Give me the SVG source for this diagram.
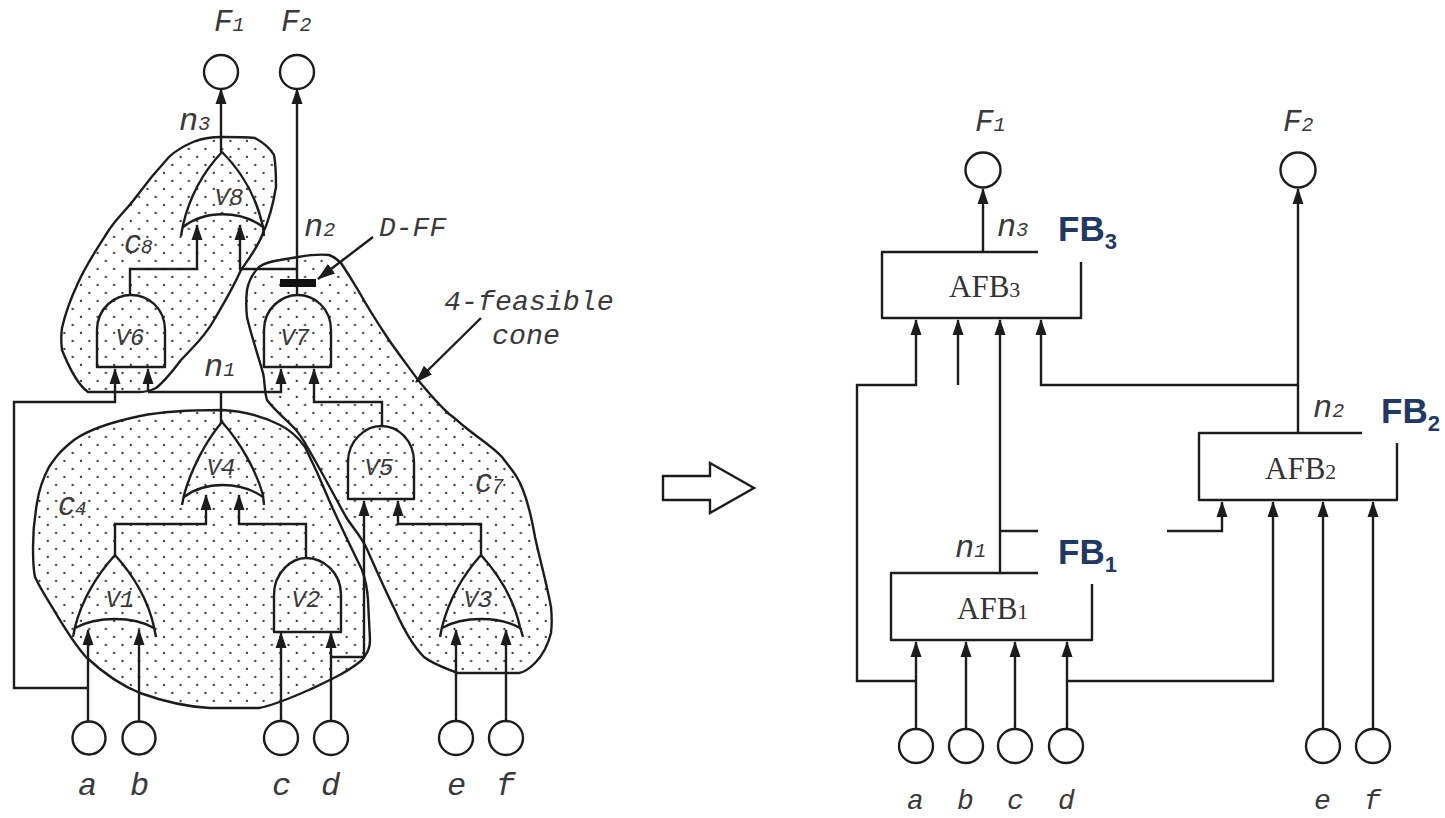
<svg xmlns="http://www.w3.org/2000/svg" width="1445" height="818" viewBox="0 0 1445 818">
<style>
.w{fill:none;stroke:#1c1c1c;stroke-width:2.4}
.cone{fill:url(#dots);stroke:#1c1c1c;stroke-width:2.4;stroke-linejoin:round}
.g{fill:none;stroke:#1c1c1c;stroke-width:2.4;stroke-linejoin:round}
.c{fill:#fff;stroke:#1c1c1c;stroke-width:2.4}
.t{font-family:"Liberation Mono",monospace;font-style:italic;fill:#3a3a3a}
.big{font-size:32px}.low{font-size:28px}.f{font-size:28px}.ff{font-size:31px}.sm{font-size:20px}
.v{font-size:24px;text-anchor:middle}
.afb{font-family:"Liberation Serif",serif;font-size:31px;fill:#333}
.fb{font-family:"Liberation Sans",Arial,sans-serif;font-weight:700;font-size:35px;fill:#1f3864}
.fbs{font-size:22px}
</style>
<defs>
<pattern id="dots" width="16.6" height="16" patternUnits="userSpaceOnUse">
<circle cx="6.3" cy="5" r="1.15" fill="#333"/>
<circle cx="14.6" cy="13" r="1.15" fill="#333"/>
</pattern>
<marker id="up" markerUnits="userSpaceOnUse" markerWidth="14" markerHeight="18" refX="7" refY="1" orient="0" viewBox="0 0 14 18">
<path d="M7 0L12.5 16H1.5Z" fill="#1c1c1c"/>
</marker>
<marker id="pt" markerUnits="userSpaceOnUse" markerWidth="18" markerHeight="14" refX="17" refY="7" orient="auto" viewBox="0 0 18 14">
<path d="M18 7L0 1V13Z" fill="#1c1c1c"/>
</marker>
</defs>
<rect width="1445" height="818" fill="#fff"/>

<g id="cone-C4"><path class="cone" d="M222 410C195 410 165 411 140 416C107 423 88 430 74 440C60 451 55 458 49 467C42 480 39 490 37 503C34 520 33 535 33 547C33 560 33 568 35 577C42 592 50 603 58 617C66 630 75 645 86 657C100 670 120 685 140 693C165 702 190 707 210 708H259C275 705 290 698 309 690C330 680 348 672 362 660C368 652 370 648 370 640L368 600C367 585 365 578 362 570C350 545 340 525 329 500C320 478 313 463 305 447C298 437 290 430 280 425C262 416 242 411 222 410Z"/></g>
<g id="cone-C7"><path class="cone" d="M298 257C310 255 320 254 329 255C335 257 338 260 341 263C347 272 352 280 358 290C368 308 377 322 387 337C397 352 408 366 418 380C428 392 436 402 449 414C455 418 460 423 465 427C478 438 492 446 502 457C512 470 519 478 523 490C529 505 532 520 535 537C540 560 547 585 551 607C552 618 552 625 551 633C548 645 543 655 535 663C530 668 525 672 519 673H457C445 668 433 664 424 657C412 645 403 628 395 610C385 590 375 567 366 547C360 535 353 528 346 517C335 497 325 478 313 457C307 447 303 438 296 430C287 420 276 412 267 400C264 390 265 381 263 373C258 355 251 335 247 317C246 308 246 299 247 290C249 279 253 273 259 267C266 262 273 261 280 260Z"/></g>
<g id="cone-C8"><path class="cone" d="M222 137C235 137 245 137 255 138C264 143 270 148 274 155C276 165 276 175 276 187C273 205 269 220 263 233C258 247 250 257 241 270C232 290 224 303 214 320C205 337 192 348 181 360C172 372 165 381 156 388C150 391 145 392 140 392H88C78 385 70 370 62 350C61 342 61 335 62 328C66 310 71 298 78 283C86 265 96 250 107 233C117 217 125 212 136 197C147 182 157 170 169 157C176 150 184 146 193 142C203 138 212 137 222 137Z"/></g>

<g id="connectors">
<path class="w" marker-end="url(#up)" d="M221 152V89"/>
<path class="w" marker-end="url(#up)" d="M297 280V89"/>
<path class="w" d="M297 287V295"/>
<path class="w" marker-end="url(#up)" d="M130 295V269H197V225"/>
<path class="w" marker-end="url(#up)" d="M297 269H240V225"/>
<path class="w" marker-end="url(#up)" d="M88 688H14V402H115V369"/>
<path class="w" marker-end="url(#up)" d="M148 392V369"/>
<path class="w" marker-end="url(#up)" d="M148 392H281V369"/>
<path class="w" d="M221 392V423"/>
<path class="w" marker-end="url(#up)" d="M382 426V402H314V369"/>
<path class="w" marker-end="url(#up)" d="M115 555V524H206V495"/>
<path class="w" marker-end="url(#up)" d="M306 558V524H239V495"/>
<path class="w" marker-end="url(#up)" d="M331 657H364V501"/>
<path class="w" marker-end="url(#up)" d="M481 555V524H398V501"/>
<path class="w" marker-end="url(#up)" d="M88 722V630"/>
<path class="w" marker-end="url(#up)" d="M139 722V630"/>
<path class="w" marker-end="url(#up)" d="M281 722V633"/>
<path class="w" marker-end="url(#up)" d="M331 722V633"/>
<path class="w" marker-end="url(#up)" d="M456 722V630"/>
<path class="w" marker-end="url(#up)" d="M506 722V630"/>
<path class="w" marker-end="url(#pt)" d="M373 237L318 279"/>
<path class="w" marker-end="url(#pt)" d="M481 318L416 382"/>

<path class="w" marker-end="url(#up)" d="M983 252V189"/>
<path class="w" marker-end="url(#up)" d="M1298 433V189"/>
<path class="w" marker-end="url(#up)" d="M916 681H857V385H916V320"/>
<path class="w" marker-end="url(#up)" d="M958 385V320"/>
<path class="w" marker-end="url(#up)" d="M1000 573V320"/>
<path class="w" marker-end="url(#up)" d="M1298 385H1041V320"/>
<path class="w" d="M1000 531H1038"/>
<path class="w" marker-end="url(#up)" d="M1167 531H1222V502"/>
<path class="w" marker-end="url(#up)" d="M1067 681H1273V502"/>
<path class="w" marker-end="url(#up)" d="M1323 730V502"/>
<path class="w" marker-end="url(#up)" d="M1373 730V502"/>
<path class="w" marker-end="url(#up)" d="M916 730V642"/>
<path class="w" marker-end="url(#up)" d="M966 730V642"/>
<path class="w" marker-end="url(#up)" d="M1015 730V642"/>
<path class="w" marker-end="url(#up)" d="M1067 730V642"/>
</g>

<g id="D-FF"><rect x="280" y="279" width="36" height="8" fill="#111"/><text class="t f" x="379" y="236">D-FF</text></g>
<g id="feasible-label"><text class="t" font-size="28.3" x="444" y="310">4-feasible</text><text class="t" font-size="28.3" x="492" y="344">cone</text></g>

<g id="F1"><circle class="c" cx="221" cy="72" r="17"/><text class="t ff" x="214" y="31">F<tspan class="sm">1</tspan></text></g>
<g id="F2"><circle class="c" cx="297" cy="72" r="17"/><text class="t ff" x="281" y="31">F<tspan class="sm">2</tspan></text></g>

<g id="V8"><path class="g" d="M181 236L183 225C190 195 205 170 222 152C240 170 256 195 263 227L264 236M183 227C205 210 240 210 263 227"/><text class="t v" x="229" y="205">V8</text></g>
<g id="V6"><path class="g" d="M97 367V330C97 308 115 295 131 295C148 295 165 308 165 330V367Z"/><text class="t v" x="130" y="345">V6</text></g>
<g id="V7"><path class="g" d="M264 367V330C264 308 282 295 298 295C314 295 331 308 331 330V367Z"/><text class="t v" x="295" y="345">V7</text></g>
<g id="V4"><path class="g" d="M182 505L184 495C191 470 205 442 222 422C240 442 256 470 263 495L264 505M184 497C205 481 240 481 263 497"/><text class="t v" x="221" y="475">V4</text></g>
<g id="V5"><path class="g" d="M348 499V462C348 440 366 426 381 426C398 426 414 440 414 462V499Z"/><text class="t v" x="379" y="475">V5</text></g>
<g id="V1"><path class="g" d="M73 637L75 627C82 600 97 575 115 555C133 575 148 600 154 627L156 637M75 628C97 616 133 616 154 628"/><text class="t v" x="120" y="607">V1</text></g>
<g id="V2"><path class="g" d="M274 632V595C274 572 292 558 306 558C323 558 341 572 341 595V632Z"/><text class="t v" x="306" y="607">V2</text></g>
<g id="V3"><path class="g" d="M440 637L442 627C449 600 463 575 481 555C499 575 514 600 520 627L523 637M442 628C463 616 499 616 520 628"/><text class="t v" x="478" y="607">V3</text></g>

<g id="a"><circle class="c" cx="89" cy="738" r="16.5"/><text class="t big" x="78" y="795">a</text></g>
<g id="b"><circle class="c" cx="139" cy="738" r="16.5"/><text class="t big" x="130" y="795">b</text></g>
<g id="c"><circle class="c" cx="281" cy="738" r="17"/><text class="t big" x="272" y="795">c</text></g>
<g id="d"><circle class="c" cx="331" cy="738" r="17"/><text class="t big" x="321" y="795">d</text></g>
<g id="e"><circle class="c" cx="456" cy="738" r="17"/><text class="t big" x="447" y="795">e</text></g>
<g id="f"><circle class="c" cx="506" cy="738" r="17"/><text class="t big" x="496" y="795">f</text></g>

<g id="labels-left">
<text class="t big" x="179" y="130">n<tspan class="sm">3</tspan></text>
<text class="t big" x="304" y="236">n<tspan class="sm">2</tspan></text>
<text class="t big" x="204" y="376">n<tspan class="sm">1</tspan></text>
<text class="t f" x="124" y="253">C<tspan class="sm">8</tspan></text>
<text class="t f" x="58" y="515">C<tspan class="sm">4</tspan></text>
<text class="t f" x="475" y="492">C<tspan class="sm">7</tspan></text>
</g>

<g id="transform-arrow"><path d="M663 476H710V463L754 488L710 513V500H663Z" fill="#fff" stroke="#1c1c1c" stroke-width="2.4"/></g>

<g id="AFB3"><rect class="g" x="882" y="252" width="199" height="66"/><rect x="1038" y="205" width="90" height="57" fill="#fff"/><text class="afb" x="949" y="297">AFB<tspan font-size="22">3</tspan></text><text class="fb" x="1058" y="241">FB<tspan class="fbs" dy="8">3</tspan></text></g>
<g id="AFB2"><rect class="g" x="1199" y="433" width="198" height="67"/><rect x="1362" y="385" width="83" height="58" fill="#fff"/><text class="afb" x="1265" y="479">AFB<tspan font-size="22">2</tspan></text><text class="fb" x="1381" y="423">FB<tspan class="fbs" dy="8">2</tspan></text></g>
<g id="AFB1"><rect class="g" x="891" y="573" width="201" height="67"/><rect x="1038" y="525" width="129" height="59" fill="#fff"/><text class="afb" x="957" y="619">AFB<tspan font-size="22">1</tspan></text><text class="fb" x="1058" y="564">FB<tspan class="fbs" dy="8">1</tspan></text></g>
<g id="R-F1"><circle class="c" cx="983" cy="170" r="17.5"/><text class="t ff" x="975" y="131">F<tspan class="sm">1</tspan></text></g>
<g id="R-F2"><circle class="c" cx="1298" cy="170" r="17.5"/><text class="t ff" x="1283" y="131">F<tspan class="sm">2</tspan></text></g>
<g id="R-a"><circle class="c" cx="916" cy="746" r="17"/><text class="t low" x="907" y="809">a</text></g>
<g id="R-b"><circle class="c" cx="966" cy="746" r="17"/><text class="t low" x="957" y="809">b</text></g>
<g id="R-c"><circle class="c" cx="1015" cy="746" r="17"/><text class="t low" x="1007" y="809">c</text></g>
<g id="R-d"><circle class="c" cx="1066" cy="746" r="17"/><text class="t low" x="1058" y="809">d</text></g>
<g id="R-e"><circle class="c" cx="1323" cy="746" r="17"/><text class="t low" x="1314" y="809">e</text></g>
<g id="R-f"><circle class="c" cx="1373" cy="746" r="17"/><text class="t low" x="1364" y="809">f</text></g>
<g id="labels-right">
<text class="t big" x="997" y="236">n<tspan class="sm">3</tspan></text>
<text class="t big" x="1313" y="417">n<tspan class="sm">2</tspan></text>
<text class="t big" x="955" y="557">n<tspan class="sm">1</tspan></text>
</g>
</svg>
